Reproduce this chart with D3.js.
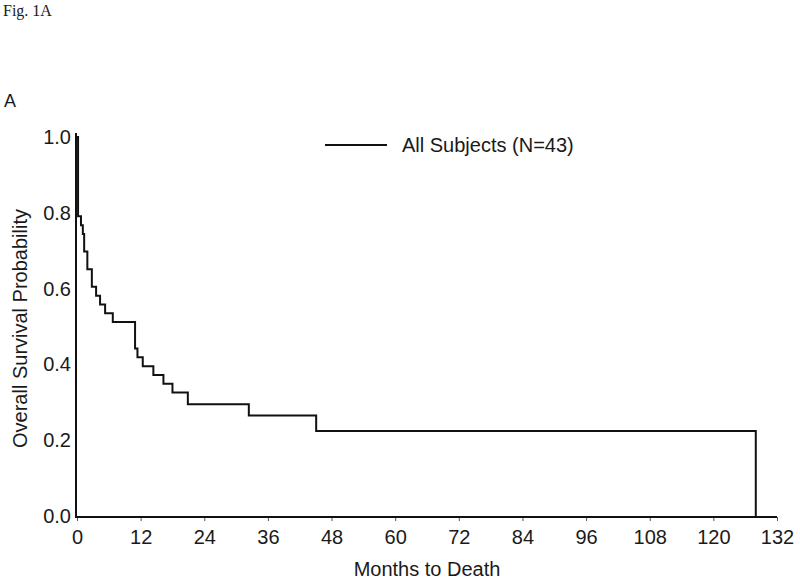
<!DOCTYPE html>
<html>
<head>
<meta charset="utf-8">
<script src="https://cdn.jsdelivr.net/npm/d3@7"></script>
<style>
  body { margin: 0; background: #fff; }
  text { font-family: "Liberation Sans", Arial, sans-serif; fill: #1a1a1a; }
</style>
</head>
<body>
<div class="chart"></div>
<script>
// Kaplan-Meier step data
const months   = [0, 0.2, 0.75, 1.1, 1.35, 1.95, 2.8, 3.6, 4.35, 5.3, 6.75, 10.95, 11.4, 12.4, 14.4, 16.3, 18.0, 20.9, 32.4, 45.1, 128.0];
const survival = [1.0, 0.791, 0.767, 0.744, 0.698, 0.651, 0.605, 0.581, 0.558, 0.535, 0.512, 0.442, 0.419, 0.395, 0.372, 0.349, 0.326, 0.295, 0.265, 0.224, 0.0];
const xTicks = [0, 12, 24, 36, 48, 60, 72, 84, 96, 108, 120, 132];
const yTicks = [0.0, 0.2, 0.4, 0.6, 0.8, 1.0];
const legendLabel = "All Subjects (N=43)";

const data = months.map((m, i) => ({month: m, surv: survival[i]}));

const W = 800, H = 582;
const svg = d3.select(".chart")
  .append("svg")
  .attr("width", W)
  .attr("height", H);

const xScale = d3.scaleLinear().domain([0, 132]).range([77, 777]);
const yScale = d3.scaleLinear().domain([0, 1]).range([516, 137]);
const axisY = 517;

// titles
svg.append("text")
  .attr("x", 3).attr("y", 16)
  .style("font-family", "'Liberation Serif', 'Times New Roman', serif")
  .attr("font-size", 16)
  .text("Fig. 1A");

svg.append("text")
  .attr("x", 4).attr("y", 107)
  .attr("font-size", 18)
  .text("A");

// x axis
const xAxis = d3.axisBottom(xScale)
  .tickValues(xTicks)
  .tickSize(4)
  .tickPadding(9)
  .tickFormat(d3.format("d"));

const xAxisGroup = svg.append("g")
  .attr("transform", `translate(0,${axisY})`)
  .call(xAxis)
  .call(g => g.select(".domain").remove());

xAxisGroup.selectAll(".tick line").attr("stroke", "#555").attr("stroke-width", 1);
xAxisGroup.selectAll(".tick text")
  .attr("font-size", 20)
  .attr("fill", "#1a1a1a");

// y axis
const yAxis = d3.axisLeft(yScale)
  .tickValues(yTicks)
  .tickSize(0)
  .tickPadding(5)
  .tickFormat(d3.format(".1f"));

const yAxisGroup = svg.append("g")
  .attr("transform", `translate(${xScale(0) - 1},0)`)
  .call(yAxis)
  .call(g => g.select(".domain").remove());

yAxisGroup.selectAll(".tick text")
  .attr("font-size", 20)
  .attr("fill", "#1a1a1a");

// axis lines
svg.append("line")
  .attr("x1", xScale(0) - 1).attr("x2", xScale(0) - 1)
  .attr("y1", axisY).attr("y2", yScale(1) - 4)
  .attr("stroke", "#111").attr("stroke-width", 2);

svg.append("line")
  .attr("x1", xScale(0) - 2).attr("x2", xScale(132))
  .attr("y1", axisY).attr("y2", axisY)
  .attr("stroke", "#111").attr("stroke-width", 2);

// axis labels
svg.append("text")
  .attr("x", (xScale(0) + xScale(132)) / 2)
  .attr("y", 576)
  .attr("text-anchor", "middle")
  .attr("font-size", 20)
  .text("Months to Death");

svg.append("text")
  .attr("transform", `translate(27,${(yScale(0) + yScale(1)) / 2 + 2}) rotate(-90)`)
  .attr("text-anchor", "middle")
  .attr("font-size", 20)
  .text("Overall Survival Probability");

// survival curve
const line = d3.line()
  .curve(d3.curveStepAfter)
  .x(d => xScale(d.month))
  .y(d => yScale(d.surv));

svg.append("path")
  .datum(data)
  .attr("fill", "none")
  .attr("stroke", "#111")
  .attr("stroke-width", 2)
  .attr("d", line);

// legend
svg.append("line")
  .attr("x1", 325).attr("x2", 387)
  .attr("y1", 145).attr("y2", 145)
  .attr("stroke", "#111").attr("stroke-width", 2);

svg.append("text")
  .attr("x", 402).attr("y", 145)
  .attr("dy", "0.35em")
  .attr("font-size", 20)
  .text(legendLabel);
</script>
</body>
</html>
